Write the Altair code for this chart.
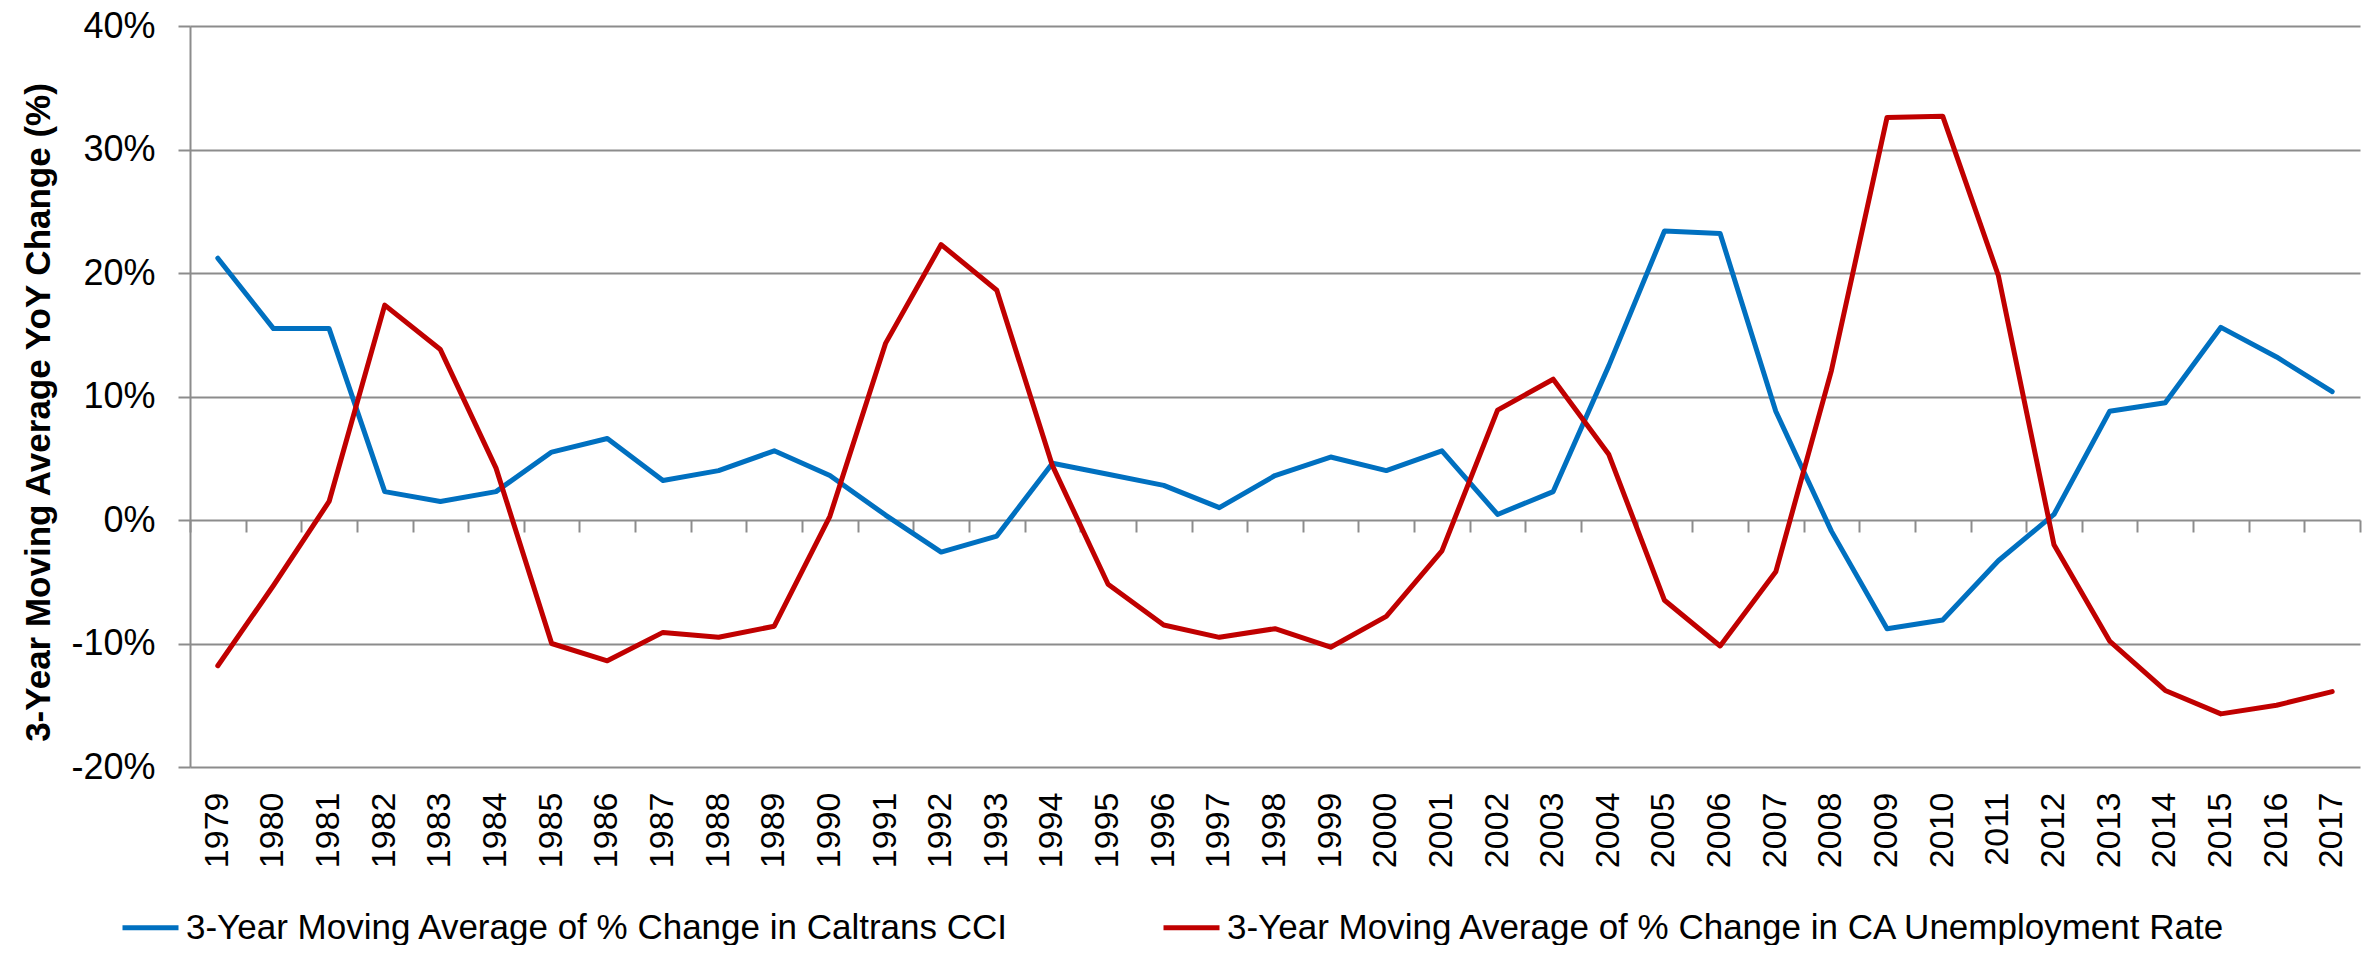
import altair as alt
import pandas as pd

years = [str(y) for y in range(1979, 2018)]
cci = [21.2, 15.5, 15.5, 2.3, 1.5, 2.3, 5.5, 6.6, 3.2, 4.0, 5.6,
       3.6, 0.4, -2.6, -1.3, 4.6, 3.7, 2.8, 1.0, 3.6, 5.1, 4.0, 5.6, 0.45, 2.3,
       12.5, 23.4, 23.2, 8.8, -0.9, -8.8, -8.1, -3.3, 0.45, 8.8, 9.5, 15.6, 13.2, 10.4]
unemp = [-11.8, -5.3, 1.5, 17.4, 13.8, 4.2, -10.0, -11.4, -9.1, -9.5, -8.6,
         0.3, 14.3, 22.3, 18.6, 4.4, -5.2, -8.5, -9.5, -8.8, -10.3, -7.8, -2.5, 8.9, 11.4,
         5.3, -6.5, -10.2, -4.2, 12.1, 32.6, 32.7, 19.8, -2.0, -9.8, -13.8, -15.7, -15.0, -13.9]
series_names = ["3-Year Moving Average of % Change in Caltrans CCI",
                "3-Year Moving Average of % Change in CA Unemployment Rate"]
series_colors = ["#0070C0", "#C00000"]
y_ticks = [-0.2, -0.1, 0.0, 0.1, 0.2, 0.3, 0.4]

rows = []
for i, y in enumerate(years):
    rows.append({"year": y, "value": cci[i] / 100, "series": series_names[0]})
    rows.append({"year": y, "value": unemp[i] / 100, "series": series_names[1]})
df = pd.DataFrame(rows)

GRID = "#8C8C8C"
NARROW = "Liberation Sans Narrow, Liberation Sans, sans-serif"
W, H = 2170, 741

xscale = alt.Scale(type="band", domain=years, paddingInner=0, paddingOuter=0)
yscale = alt.Scale(domain=[-0.2, 0.4], nice=False)

lines = alt.Chart(df).mark_line(strokeWidth=5, strokeCap="round", strokeJoin="round").encode(
    x=alt.X("year:O", scale=xscale, bandPosition=0.5,
            axis=alt.Axis(title=None, labelAngle=-90, ticks=False, domain=False, grid=False,
                          labelPadding=25, labelFontSize=34, labelFont=NARROW,
                          labelColor="#000000")),
    y=alt.Y("value:Q", scale=yscale,
            axis=alt.Axis(values=y_ticks, format=".0%",
                          labelExpr="replace(datum.label, '\u2212', '-')",
                          grid=True, gridColor=GRID, gridWidth=2,
                          domain=True, domainColor=GRID, domainWidth=2,
                          ticks=True, tickColor=GRID, tickWidth=2, tickSize=12,
                          labelPadding=23, labelFontSize=36, labelFont=NARROW, labelColor="#000000",
                          title="3-Year Moving Average YoY Change (%)",
                          titleFont="Liberation Sans", titleFontSize=35, titleFontWeight="bold",
                          titleColor="#000000", titleX=-152, titleY=386, titleAngle=-90,
                          titleAlign="center", titleBaseline="middle")),
    color=alt.Color("series:N",
                    scale=alt.Scale(domain=series_names, range=series_colors),
                    legend=alt.Legend(title=None, orient="none", direction="horizontal",
                                      legendX=-70, legendY=871, padding=0,
                                      symbolType="stroke", symbolSize=3136, symbolStrokeWidth=5,
                                      labelFontSize=35, labelFont="Liberation Sans",
                                      labelColor="#000000", labelOffset=5,
                                      columnPadding=144, labelLimit=2000)),
)

zero_ticks = alt.Chart(df).mark_point(opacity=0).encode(
    x=alt.X("year:O", scale=xscale,
            axis=alt.Axis(title=None, orient="bottom", offset=-247, labels=False, domain=False,
                          grid=False, ticks=True, tickBand="extent", tickSize=12,
                          tickColor=GRID, tickWidth=2)),
)

chart = alt.layer(lines, zero_ticks).resolve_axis(x="independent").properties(
    width=W, height=H,
    background="white",
    autosize=alt.AutoSizeParams(type="none"),
    padding={"left": 182, "top": 18, "right": 6, "bottom": 178},
).configure_view(stroke=None)

chart.save("out.html", embed_options={"renderer": "svg", "actions": False})
